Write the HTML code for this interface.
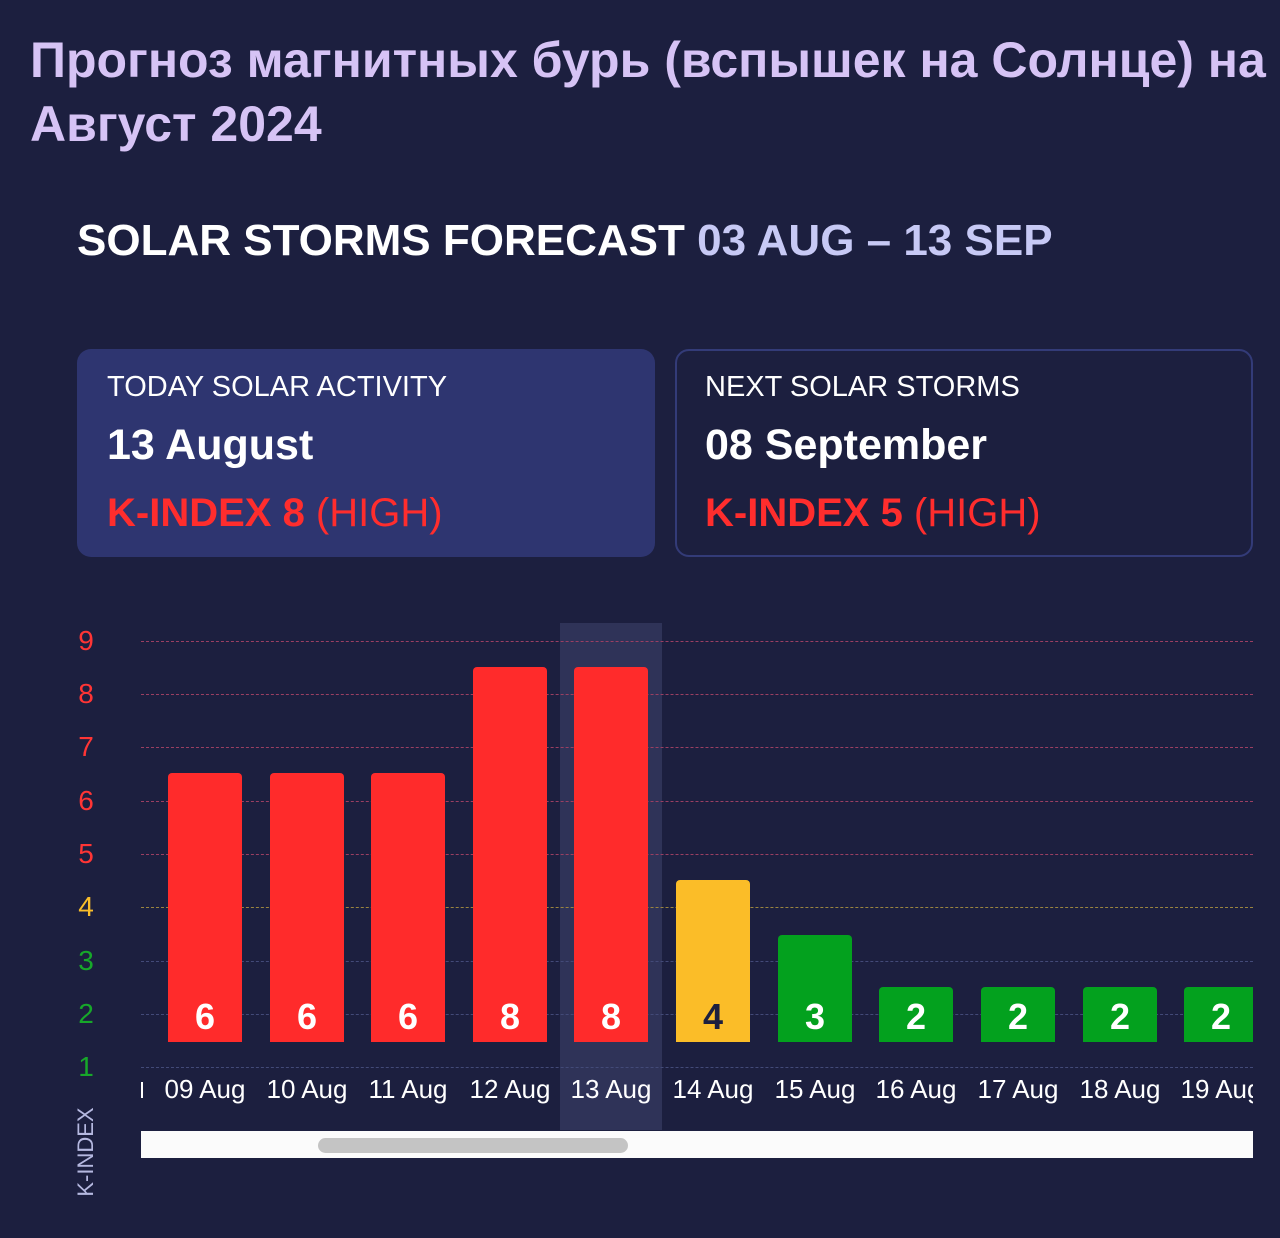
<!DOCTYPE html>
<html><head><meta charset="utf-8"><style>
body{margin:0;width:1280px;height:1238px;background:#1c1f3f;overflow:hidden;position:relative;font-family:"Liberation Sans",sans-serif}
.a{position:absolute;white-space:nowrap}
.t{color:#d6c3f5;font-weight:bold;font-size:50px;left:30px;line-height:62px}
.card{position:absolute;top:349px;width:578px;height:208px;border-radius:14px;box-sizing:border-box}
.card .l1{position:absolute;left:30px;top:22px;font-size:29px;color:#fff}
.card .l2{position:absolute;left:30px;top:72px;font-size:43px;font-weight:bold;color:#fff}
.card .l3{position:absolute;left:30px;top:142px;font-size:40px;color:#ff2d2d}
.g{position:absolute;left:141px;width:1112px;height:0;border-top:1.5px dashed}
.yl{position:absolute;left:76px;width:20px;text-align:center;font-size:28px}
.bar{position:absolute;width:74px;bottom:196px;border-radius:4px 4px 0 0;color:#fff;font-weight:bold;font-size:36px;text-align:center;box-sizing:border-box;padding-top:0}
.bar span{position:absolute;bottom:4px;left:0;right:0}
.xl{position:absolute;top:1074px;font-size:26px;color:#fff;width:102px;text-align:center}
</style></head><body>
<div class="a t" style="top:29px">Прогноз магнитных бурь (вспышек на Солнце) на</div>
<div class="a t" style="top:93px">Август 2024</div>
<div class="a" style="left:77px;top:216px;font-size:44px;font-weight:bold;color:#fff">SOLAR STORMS FORECAST <span style="color:#c7c9f5">03 AUG – 13 SEP</span></div>
<div class="card" style="left:77px;background:#2e3570"><div class="l1">TODAY SOLAR ACTIVITY</div><div class="l2">13 August</div><div class="l3"><b>K-INDEX 8</b> (HIGH)</div></div>
<div class="card" style="left:675px;border:2px solid #333b78"><div class="l1" style="left:28px;top:20px">NEXT SOLAR STORMS</div><div class="l2" style="left:28px;top:70px">08 September</div><div class="l3" style="left:28px;top:140px"><b>K-INDEX 5</b> (HIGH)</div></div>
<div style="position:absolute;left:560px;top:623px;width:102px;height:507px;background:#2f3358"></div>
<div class="g" style="top:641px;border-color:#9a3f62"></div>
<div class="g" style="top:694px;border-color:#9a3f62"></div>
<div class="g" style="top:747px;border-color:#9a3f62"></div>
<div class="g" style="top:801px;border-color:#9a3f62"></div>
<div class="g" style="top:854px;border-color:#9a3f62"></div>
<div class="g" style="top:907px;border-color:#9a843f"></div>
<div class="g" style="top:961px;border-color:#434a78"></div>
<div class="g" style="top:1014px;border-color:#434a78"></div>
<div class="g" style="top:1067px;border-color:#434a78"></div>
<div class="yl" style="top:625px;color:#ff3535">9</div>
<div class="yl" style="top:678px;color:#ff3535">8</div>
<div class="yl" style="top:731px;color:#ff3535">7</div>
<div class="yl" style="top:785px;color:#ff3535">6</div>
<div class="yl" style="top:838px;color:#ff3535">5</div>
<div class="yl" style="top:891px;color:#f9bd2a">4</div>
<div class="yl" style="top:945px;color:#17a82a">3</div>
<div class="yl" style="top:998px;color:#17a82a">2</div>
<div class="yl" style="top:1051px;color:#17a82a">1</div>
<div class="a" style="left:86px;top:1152px;transform:translate(-50%,-50%) rotate(-90deg);color:#b5b8e0;font-size:22px">K-INDEX</div>
<div class="bar" style="left:168px;top:773px;background:#ff2b2b"><span>6</span></div>
<div class="bar" style="left:270px;top:773px;background:#ff2b2b"><span>6</span></div>
<div class="bar" style="left:371px;top:773px;background:#ff2b2b"><span>6</span></div>
<div class="bar" style="left:473px;top:667px;background:#ff2b2b"><span>8</span></div>
<div class="bar" style="left:574px;top:667px;background:#ff2b2b"><span>8</span></div>
<div class="bar" style="left:676px;top:880px;background:#fbbd28;color:#1c1f3f"><span>4</span></div>
<div class="bar" style="left:778px;top:935px;background:#03a11e"><span>3</span></div>
<div class="bar" style="left:879px;top:987px;background:#03a11e"><span>2</span></div>
<div class="bar" style="left:981px;top:987px;background:#03a11e"><span>2</span></div>
<div class="bar" style="left:1083px;top:987px;background:#03a11e"><span>2</span></div>
<div class="bar" style="left:1184px;top:987px;width:69px;border-radius:4px 0 0 0;background:#03a11e"><span style="right:-5px">2</span></div>
<div style="position:absolute;left:141px;top:1082px;width:2px;height:16px;background:#fff"></div>
<div style="position:absolute;left:141px;top:1060px;width:1112px;height:60px;overflow:hidden">
<div class="xl" style="left:13px;top:14px">09 Aug</div>
<div class="xl" style="left:115px;top:14px">10 Aug</div>
<div class="xl" style="left:216px;top:14px">11 Aug</div>
<div class="xl" style="left:318px;top:14px">12 Aug</div>
<div class="xl" style="left:419px;top:14px">13 Aug</div>
<div class="xl" style="left:521px;top:14px">14 Aug</div>
<div class="xl" style="left:623px;top:14px">15 Aug</div>
<div class="xl" style="left:724px;top:14px">16 Aug</div>
<div class="xl" style="left:826px;top:14px">17 Aug</div>
<div class="xl" style="left:928px;top:14px">18 Aug</div>
<div class="xl" style="left:1029px;top:14px">19 Aug</div>
</div>
<div style="position:absolute;left:141px;top:1131px;width:1112px;height:27px;background:#fbfbfb"></div>
<div style="position:absolute;left:318px;top:1138px;width:310px;height:15px;border-radius:8px;background:#c4c4c4"></div>
</body></html>
